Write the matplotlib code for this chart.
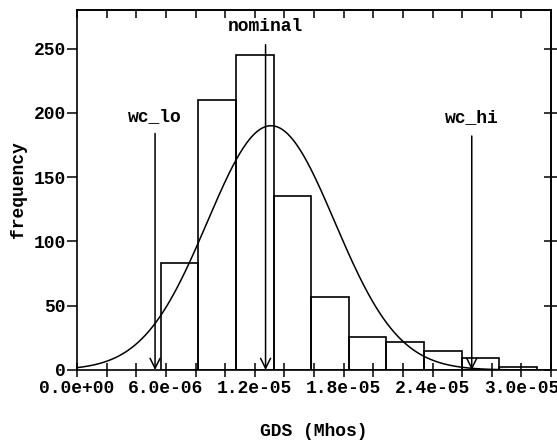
import numpy as np
import matplotlib
matplotlib.use("Agg")
import matplotlib.pyplot as plt
from matplotlib.ticker import MultipleLocator, FormatStrFormatter

# ---- data ----
bin_edges = [5.65e-6, 8.19e-6, 10.73e-6, 13.27e-6, 15.81e-6, 18.35e-6,
             20.89e-6, 23.43e-6, 25.97e-6, 28.51e-6, 31.05e-6]
counts = [83, 210, 245, 135, 57, 26, 22, 15, 9, 2]

fit_mean = 13.1e-6
fit_sigma = 4.3e-6
fit_peak = 190

marker_names = ["wc_lo", "nominal", "wc_hi"]
marker_x = [5.27e-6, 12.73e-6, 26.65e-6]
marker_top = [184, 253, 182]
marker_label_y = [197, 267, 196]

xtick_major = [0.0, 6.0e-6, 1.2e-5, 1.8e-5, 2.4e-5, 3.0e-5]
ytick_major = [0, 50, 100, 150, 200, 250]

FONT = "Liberation Mono"
FS = 13

fig = plt.figure(figsize=(5.57, 4.42), dpi=100)
ax = fig.add_axes([77/557, 72/442, (551-77)/557, (370-10)/442])

# histogram bars
lefts = bin_edges[:-1]
widths = np.diff(bin_edges)
ax.bar(lefts, counts, width=widths, align="edge", fill=False,
       edgecolor="black", linewidth=1.2)

# fitted normal curve
xs = np.linspace(0, 3.2e-5, 400)
ys = fit_peak * np.exp(-0.5 * ((xs - fit_mean) / fit_sigma) ** 2)
ax.plot(xs, ys, color="black", linewidth=1.1)

# marker arrows
for name, mx, top, ly in zip(marker_names, marker_x, marker_top, marker_label_y):
    ax.annotate("", xy=(mx, 0), xytext=(mx, top),
                arrowprops=dict(arrowstyle="->", color="black", lw=1.1,
                                mutation_scale=18, shrinkA=0, shrinkB=0))
    ax.text(mx, ly, name, ha="center", va="center", fontsize=FS,
            family=FONT, fontweight="bold")

ax.set_xlim(0, 3.2e-5)
ax.set_ylim(0, 280)

ax.set_xticks(xtick_major)
ax.xaxis.set_minor_locator(MultipleLocator(2e-6))
ax.xaxis.set_major_formatter(FormatStrFormatter("%.1e"))
ax.set_yticks(ytick_major)

ax.tick_params(axis="x", which="both", direction="inout", length=10, width=1.1,
               labelsize=FS, pad=2)
ax.tick_params(axis="y", which="both", direction="out", length=7, width=1.1,
               labelsize=FS, pad=1)
for lab in ax.get_xticklabels() + ax.get_yticklabels():
    lab.set_family(FONT)
    lab.set_fontweight("bold")

# top and right ticks
top = ax.secondary_xaxis("top")
top.set_xticks(np.arange(0, 3.3e-5, 2e-6))
top.tick_params(direction="in", length=6, width=1.1, labeltop=False)
top.spines["top"].set_linewidth(1.2)
right = ax.secondary_yaxis("right")
right.set_yticks(ytick_major)
right.tick_params(direction="inout", length=10, width=1.1, labelright=False)
right.spines["right"].set_linewidth(1.2)

for s in ax.spines.values():
    s.set_linewidth(1.2)

ax.set_xlabel("GDS (Mhos)", family=FONT, fontsize=FS, fontweight="bold",
              labelpad=19)
ax.set_ylabel("frequency", family=FONT, fontsize=FS, fontweight="bold",
              labelpad=5)

fig.savefig("out.png", dpi=100)
